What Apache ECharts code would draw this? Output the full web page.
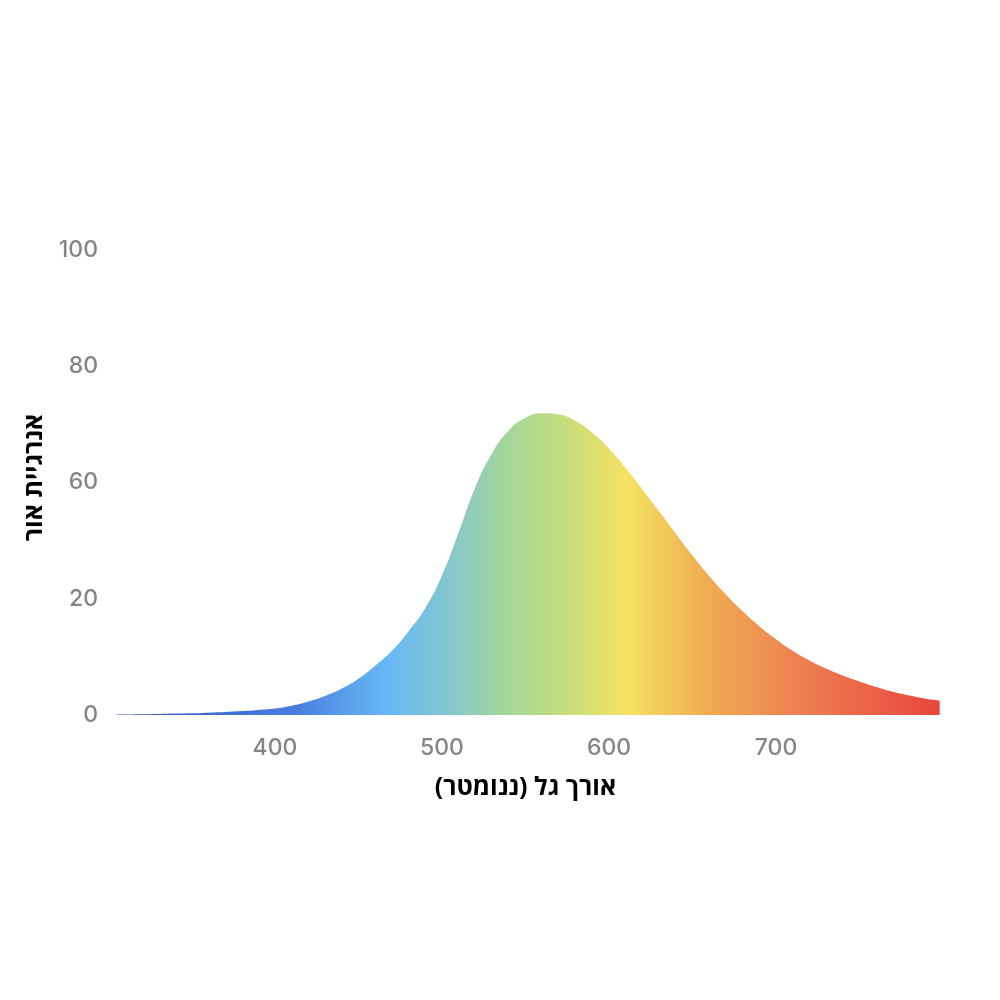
<!DOCTYPE html>
<html>
<head>
<meta charset="utf-8">
<script src="https://cdn.jsdelivr.net/npm/echarts@6/dist/echarts.min.js"></script>
<style>
html,body{margin:0;padding:0;background:#fff;}
#c{width:1000px;height:1000px;}
</style>
</head>
<body>
<div id="c"></div>
<script>
// Wavelength (nm)
const wavelengths = [305, 310, 320, 330, 340, 350, 360, 370, 380, 390, 400, 410, 420, 430, 440, 450, 460, 470, 480, 490, 500, 510, 520, 530, 540, 550, 560, 570, 580, 590, 600, 610, 620, 630, 640, 650, 660, 670, 680, 690, 700, 710, 720, 730, 740, 750, 760, 770, 780, 790, 798];
// Light energy (position on the drawn axis, 0..100)
const energy = [0.1, 0.1, 0.15, 0.2, 0.3, 0.35, 0.5, 0.65, 0.85, 1.1, 1.4, 2.0, 2.9, 4.1, 5.7, 7.8, 10.6, 13.8, 18.0, 23.0, 30.0, 39.3, 49.0, 56.3, 61.2, 63.9, 64.9, 64.6, 63.2, 60.7, 57.3, 53.1, 48.5, 43.8, 39.0, 34.3, 29.9, 25.9, 22.3, 19.1, 16.3, 13.8, 11.7, 10.0, 8.5, 7.2, 6.0, 5.0, 4.2, 3.5, 3.1];
// Y tick labels as printed on the reference (evenly spaced)
const yTickLabels = ["0", "20", "60", "80", "100"];
const xTickLabels = ["400", "500", "600", "700"];
const xAxisTitle = "אורך גל (ננומטר)";
const yAxisTitle = "אנרגיית אור";

const seriesData = wavelengths.map((w, i) => [w, energy[i]]);
const tickFont = 'Inter, "Liberation Sans", sans-serif';
const titleFont = '"Open Sans", "Liberation Sans", "DejaVu Sans", sans-serif';

const chart = echarts.init(document.getElementById('c'), null, {renderer: 'canvas'});
chart.setOption({
  backgroundColor: '#ffffff',
  animation: false,
  grid: {left: 108, right: 57, top: 250, bottom: 285, containLabel: false},
  xAxis: {
    type: 'value', min: 300, max: 800, interval: 100,
    axisLine: {show: false}, axisTick: {show: false}, splitLine: {show: false},
    axisLabel: {
      color: '#858585', fontSize: 23, fontWeight: 500, fontFamily: tickFont, margin: 22,
      formatter: v => xTickLabels.includes(String(v)) ? String(v) : ''
    },
    name: xAxisTitle, nameLocation: 'middle', nameGap: 60,
    nameTextStyle: {color: '#000', fontSize: 25, fontWeight: 'bold', fontFamily: titleFont}
  },
  yAxis: {
    type: 'value', min: 0, max: 100, interval: 25,
    axisLine: {show: false}, axisTick: {show: false}, splitLine: {show: false},
    axisLabel: {
      color: '#858585', fontSize: 23, fontWeight: 500, fontFamily: tickFont, margin: 10,
      formatter: v => yTickLabels[Math.round(v / 25)]
    },
    name: yAxisTitle, nameLocation: 'middle', nameGap: 55, nameRotate: 90,
    nameTextStyle: {color: '#000', fontSize: 25, fontWeight: 'bold', fontFamily: titleFont, padding: [0, 0, 0, 10]}
  },
  series: [{
    type: 'line',
    data: seriesData,
    smooth: 0.5,
    showSymbol: false,
    lineStyle: {width: 0},
    areaStyle: {
      opacity: 1,
      color: new echarts.graphic.LinearGradient(0, 0, 1, 0, [
        {offset: 0.00, color: '#3b55c2'},
        {offset: 0.22, color: '#4a7fe0'},
        {offset: 0.33, color: '#68b8f6'},
        {offset: 0.40, color: '#82c6d0'},
        {offset: 0.47, color: '#a2d59c'},
        {offset: 0.53, color: '#bcdc82'},
        {offset: 0.62, color: '#f5e262'},
        {offset: 0.72, color: '#f0aa52'},
        {offset: 0.83, color: '#ec8050'},
        {offset: 1.00, color: '#e8453e'}
      ])
    }
  }]
});
</script>
</body>
</html>
